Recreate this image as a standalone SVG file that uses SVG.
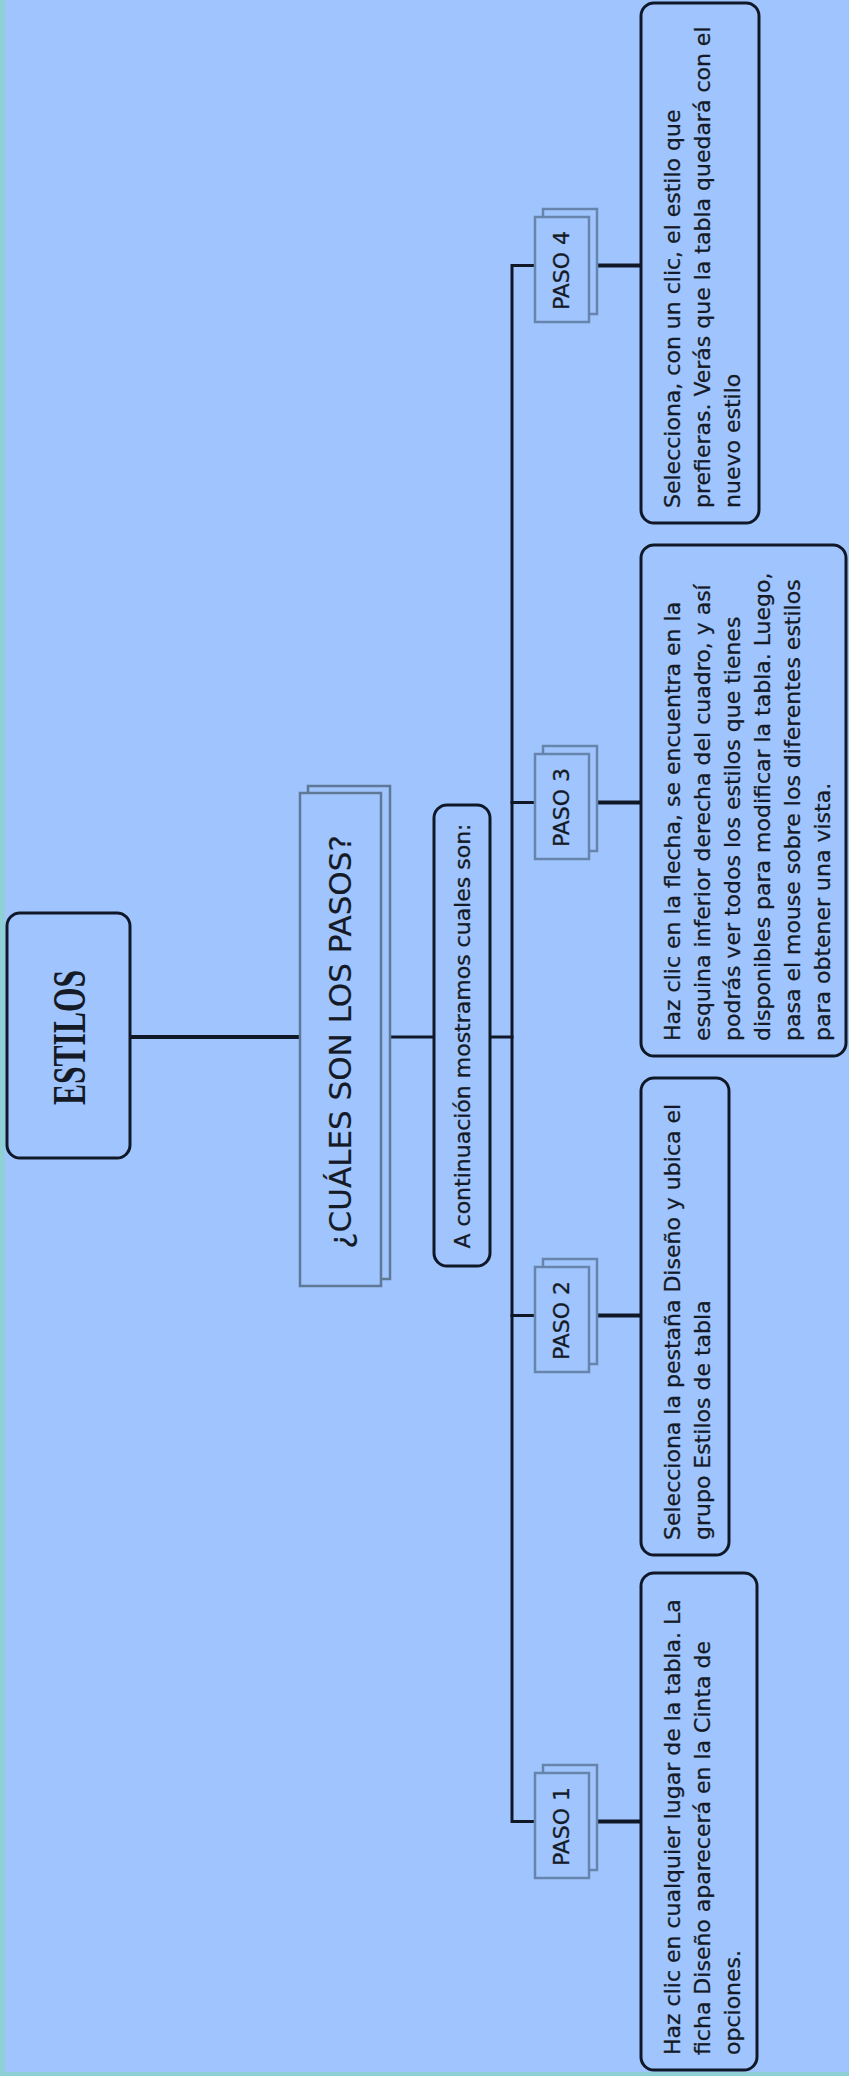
<svg xmlns="http://www.w3.org/2000/svg" width="849" height="2076" viewBox="0 0 849 2076">
<style>
.bg{fill:#A0C4FE}
.edge{fill:#8FCFD6}
.box{fill:#A0C4FE;stroke:#101828;stroke-width:3}
.stk{fill:#A0C4FE;stroke:#6684AC;stroke-width:2.5}
.stk2{fill:#A0C4FE;stroke:#5E7896;stroke-width:2.5}
.t{font-family:"DejaVu Sans",Verdana,sans-serif;font-size:22px;fill:#141a26;stroke:#141a26;stroke-width:0.3}
.h{font-family:"DejaVu Sans",Verdana,sans-serif;font-size:31px;fill:#141a26;stroke:#141a26;stroke-width:0.2}
.ti{font-family:"Liberation Serif","Times New Roman",serif;font-size:46px;font-weight:bold;fill:#141a26}
.c{fill:none;stroke:#101828;stroke-linecap:square}
.c3{stroke-width:3}
.c4{stroke-width:4}
</style>
<rect class="bg" x="0" y="0" width="849" height="2076"/>
<rect class="edge" x="0" y="0" width="5" height="2076"/>
<rect class="edge" x="0" y="2072" width="849" height="4"/>

<g id="connectors">
<path class="c c4" d="M130,1037 H300"/>
<path class="c c3" d="M390,1037 H434"/>
<path class="c c3" d="M490,1037 H512"/>
<path class="c c3" d="M535,265.5 H512 V1821.5 H535"/>
<path class="c c3" d="M512,802.5 H535"/>
<path class="c c3" d="M512,1315.5 H535"/>
<path class="c c4" d="M597,265.5 H641"/>
<path class="c c4" d="M597,802.5 H641"/>
<path class="c c4" d="M597,1315.5 H641"/>
<path class="c c4" d="M597,1821.5 H641"/>
</g>

<g id="estilos">
<rect class="box" x="7" y="913" width="123" height="245" rx="13"/>
<text class="ti" transform="translate(85,1037.5) rotate(-90)" text-anchor="middle" textLength="135" lengthAdjust="spacingAndGlyphs">ESTILOS</text>
</g>

<g id="cuales">
<rect class="stk2" x="308" y="786" width="82" height="493"/>
<rect class="stk2" x="300" y="793" width="81" height="493"/>
<text class="h" transform="translate(351,1042) rotate(-90)" text-anchor="middle">¿CUÁLES SON LOS PASOS?</text>
</g>

<g id="continuacion">
<rect class="box" x="434" y="805" width="56" height="461" rx="13"/>
<text class="t" transform="translate(470,1036) rotate(-90)" text-anchor="middle">A continuación mostramos cuales son:</text>
</g>

<g id="paso4">
<rect class="stk" x="543" y="209" width="54" height="105"/>
<rect class="stk" x="535" y="217" width="54" height="105"/>
<text class="t" transform="translate(569,270.5) rotate(-90)" text-anchor="middle">PASO 4</text>
</g>
<g id="paso3">
<rect class="stk" x="543" y="746" width="54" height="105"/>
<rect class="stk" x="535" y="754" width="54" height="105"/>
<text class="t" transform="translate(569,807.5) rotate(-90)" text-anchor="middle">PASO 3</text>
</g>
<g id="paso2">
<rect class="stk" x="543" y="1259" width="54" height="105"/>
<rect class="stk" x="535" y="1267" width="54" height="105"/>
<text class="t" transform="translate(569,1320.5) rotate(-90)" text-anchor="middle">PASO 2</text>
</g>
<g id="paso1">
<rect class="stk" x="543" y="1765" width="54" height="105"/>
<rect class="stk" x="535" y="1773" width="54" height="105"/>
<text class="t" transform="translate(569,1826.5) rotate(-90)" text-anchor="middle">PASO 1</text>
</g>

<g id="texto4">
<rect class="box" x="641" y="3" width="118" height="520" rx="13"/>
<text class="t" transform="translate(680,508) rotate(-90)">Selecciona, con un clic, el estilo que</text>
<text class="t" transform="translate(710,508) rotate(-90)">prefieras. Verás que la tabla quedará con el</text>
<text class="t" transform="translate(740,508) rotate(-90)">nuevo estilo</text>
</g>

<g id="texto3">
<rect class="box" x="641" y="545" width="205" height="511" rx="13"/>
<text class="t" transform="translate(680,1041) rotate(-90)">Haz clic en la flecha, se encuentra en la</text>
<text class="t" transform="translate(710,1041) rotate(-90)">esquina inferior derecha del cuadro, y así</text>
<text class="t" transform="translate(740,1041) rotate(-90)">podrás ver todos los estilos que tienes</text>
<text class="t" transform="translate(770,1041) rotate(-90)">disponibles para modificar la tabla. Luego,</text>
<text class="t" transform="translate(800,1041) rotate(-90)">pasa el mouse sobre los diferentes estilos</text>
<text class="t" transform="translate(830,1041) rotate(-90)">para obtener una vista.</text>
</g>

<g id="texto2">
<rect class="box" x="641" y="1078" width="88" height="477" rx="13"/>
<text class="t" transform="translate(680,1540) rotate(-90)">Selecciona la pestaña Diseño y ubica el</text>
<text class="t" transform="translate(710,1540) rotate(-90)">grupo Estilos de tabla</text>
</g>

<g id="texto1">
<rect class="box" x="641" y="1573" width="116" height="497" rx="13"/>
<text class="t" transform="translate(680,2055) rotate(-90)">Haz clic en cualquier lugar de la tabla. La</text>
<text class="t" transform="translate(710,2055) rotate(-90)">ficha Diseño aparecerá en la Cinta de</text>
<text class="t" transform="translate(740,2055) rotate(-90)">opciones.</text>
</g>
</svg>
